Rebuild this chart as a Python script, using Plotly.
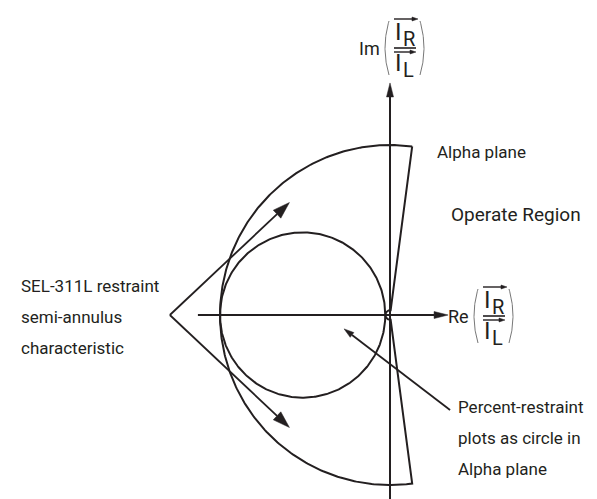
import numpy as np
import plotly.graph_objects as go

# ---------------- data (alpha-plane units) ----------------
radius_R = 6.0                  # outer restraint radius (87LR); inner = 1/R
blocking_angle_deg = 195.0      # restraint angle (87LANG)
re_axis_x = [-6.78, 2.05]       # Re axis: tail -> tip
im_axis_y = [-6.9, 8.19]        # Im axis: tail -> tip
sel_apex = [-7.77, 0.0]
sel_tips_x = [-3.55, -3.55]
sel_tips_y = [3.97, -3.97]
pct_tail = [2.12, -3.35]
pct_tip = [-1.62, -0.49]

sel_label_lines = ["SEL-311L restraint", "semi-annulus", "characteristic"]
pct_label_lines = ["Percent-restraint", "plots as circle in", "Alpha plane"]
plane_label = "Alpha plane"
region_label = "Operate Region"
axis_prefixes = ["Im", "Re"]
frac_letters = ["I", "R", "I", "L"]

# ---------------- page geometry ----------------
W, H = 597, 499
PX = 170.0 / radius_R          # pixels per alpha-plane unit
OX, OY = 382.0, 307.0          # pixel position of the origin
def X(px):
    return (px - OX) / PX
def Y(py):
    return (OY - py) / PX

INK = "#231f20"
FONT = "Roboto, Liberation Sans, sans-serif"

fig = go.Figure()

def line(xs, ys, width=2.0, color=INK):
    fig.add_trace(go.Scatter(x=list(xs), y=list(ys), mode="lines",
                             line=dict(color=color, width=width),
                             hoverinfo="skip", showlegend=False))

def arrow(x0, y0, x1, y1, head_len, head_w, width=2.0):
    d = np.array([x1 - x0, y1 - y0], dtype=float)
    u = d / np.hypot(*d)
    n = np.array([-u[1], u[0]])
    tip = np.array([x1, y1])
    base = tip - u * head_len / PX
    line([x0, base[0]], [y0, base[1]], width)
    a = base + n * head_w / 2 / PX
    b = base - n * head_w / 2 / PX
    fig.add_trace(go.Scatter(x=[tip[0], a[0], b[0], tip[0]],
                             y=[tip[1], a[1], b[1], tip[1]],
                             mode="lines", fill="toself", fillcolor=INK,
                             line=dict(color=INK, width=0.5),
                             hoverinfo="skip", showlegend=False))

# ---------------- restraint semi-annulus ----------------
edge = np.radians(180.0 - blocking_angle_deg / 2.0)
th = np.linspace(edge, 2 * np.pi - edge, 300)
r_in = 1.0 / radius_R
xs = np.concatenate([radius_R * np.cos(th), r_in * np.cos(th[::-1]), [radius_R * np.cos(th[0])]])
ys = np.concatenate([radius_R * np.sin(th), r_in * np.sin(th[::-1]), [radius_R * np.sin(th[0])]])
line(xs, ys, 2.0)

# ---------------- percent-restraint circle ----------------
cc = -(radius_R + r_in) / 2.0
cr = (radius_R - r_in) / 2.0
t = np.linspace(0, 2 * np.pi, 400)
line(cc + cr * np.cos(t), cr * np.sin(t), 2.0)

# ---------------- axes ----------------
arrow(re_axis_x[0], 0, re_axis_x[1], 0, 14, 7, 2.0)
arrow(0, im_axis_y[0], 0, im_axis_y[1], 14, 7, 2.0)

# ---------------- pointers ----------------
for tx, ty in zip(sel_tips_x, sel_tips_y):
    arrow(sel_apex[0], sel_apex[1], tx, ty, 17, 11, 1.8)
arrow(pct_tail[0], pct_tail[1], pct_tip[0], pct_tip[1], 10, 6, 1.8)

# ---------------- text ----------------
ann = []
def text(s, px, py, size=17, xanchor="left"):
    ann.append(dict(x=X(px), y=Y(py), text=s, showarrow=False, xanchor=xanchor,
                    yanchor="middle", font=dict(family=FONT, size=size, color=INK)))

for i, s in enumerate(sel_label_lines):
    text(s, 11, 278 + 31 * i, size=17)
for i, s in enumerate(pct_label_lines):
    text(s, 448, 399 + 31 * i, size=17)
text(plane_label, 427, 144, size=17)
text(region_label, 441, 206, size=19)

# axis labels: prefix ( I_R / I_L ) with vector arrows
def axis_label(prefix, cx, bar):
    text(prefix, cx - 23, bar, size=18, xanchor="right")
    i1, r1, i2, l2 = frac_letters
    text(i1, cx - 7, bar - 16, size=24, xanchor="center")
    text(r1, cx + 4, bar - 9, size=20, xanchor="center")
    text(i2, cx - 7, bar + 15, size=24, xanchor="center")
    text(l2, cx + 3, bar + 22, size=20, xanchor="center")
    line([X(cx - 11), X(cx + 11)], [Y(bar), Y(bar)], 1.6)
    arrow(X(cx - 11), Y(bar - 29), X(cx + 13), Y(bar - 29), 6, 4, 1.4)
    arrow(X(cx - 11), Y(bar + 4), X(cx + 11), Y(bar + 4), 6, 4, 1.4)
    s = np.linspace(-1, 1, 60)
    line(X(cx - 16) + (1 - s**2) * (-4 / PX), Y(bar) + s * 27 / PX, 1.0, "#777")
    line(X(cx + 15) + (1 - s**2) * (4 / PX), Y(bar) + s * 27 / PX, 1.0, "#777")

axis_label(axis_prefixes[0], 397, 40)
axis_label(axis_prefixes[1], 486, 308)

fig.update_layout(
    width=W, height=H, margin=dict(l=0, r=0, t=0, b=0),
    paper_bgcolor="white", plot_bgcolor="white", showlegend=False,
    annotations=ann,
    xaxis=dict(range=[X(0), X(W)], visible=False, fixedrange=True),
    yaxis=dict(range=[Y(H), Y(0)], visible=False, fixedrange=True),
)
fig.write_html("out.html")
